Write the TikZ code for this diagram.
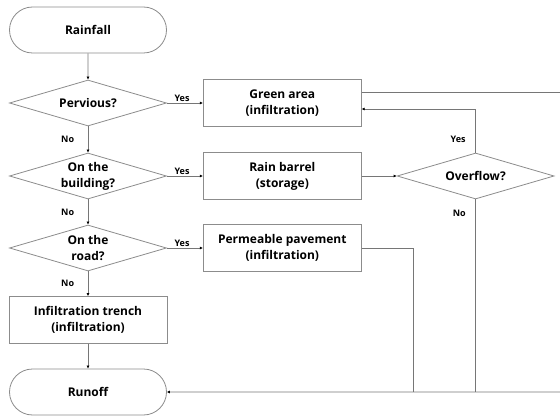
\documentclass[tikz,border=0pt]{standalone}
\usepackage{fontspec}
\setsansfont{Open Sans}
\usetikzlibrary{calc,positioning,arrows.meta,shapes.geometric,shapes.misc}
\definecolor{Edge}{HTML}{8C8C8C}
\definecolor{Wire}{HTML}{767676}
\tikzset{
  base/.style={draw=Edge,line width=.8pt,fill=white,align=center,inner sep=0pt,
    font=\sffamily\bfseries\fontsize{12}{16}\selectfont},
  terminal/.style={base,rounded rectangle,minimum width=157pt,minimum height=46pt},
  decision/.style={base,diamond,aspect=3.4,inner sep=-5pt,minimum width=157pt,minimum height=46pt},
  process/.style={base,rectangle,minimum width=158pt,minimum height=47pt},
  flow/.style={Wire,line width=.8pt,-{Latex[length=3pt,width=3pt,color=black]}},
  link/.style={Wire,line width=.8pt},
  tag/.style={text=black,font=\sffamily\bfseries\fontsize{9}{10}\selectfont,inner sep=1.5pt},
}
\begin{document}
\begin{tikzpicture}[x=1pt,y=-1pt,node distance=26.5pt and 36pt]
\useasboundingbox (0,0) rectangle (560,417);
% left column
\node[terminal] (rain) at (88,30) {Rainfall};
\node[decision] (perv) at (88,103) {Pervious?};
\node[decision] (build) at (88,176) {On the\\building?};
\node[decision] (road) at (88,248) {On the\\road?};
\node[process] (trench) at (88,320) {Infiltration trench\\(infiltration)};
\node[terminal] (runoff) at (88,392) {Runoff};
% measures
\node[process,right=36pt of perv] (green) {Green area\\(infiltration)};
\node[process,right=36pt of build] (barrel) {Rain barrel\\(storage)};
\node[process,right=36pt of road] (pave) {Permeable pavement\\(infiltration)};
\node[decision,right=35pt of barrel] (over) {Overflow?};
% helper points
\coordinate (edge) at (560,392);
\coordinate (greenin) at ($(green.east)+(0,6)$);
\coordinate (greenout) at ($(green.east)+(0,-11)$);
\coordinate (pavedrop) at ($(pave.east)+(52,0)$);
% connectors
\draw[flow] (rain) -- (perv);
\draw[flow] (perv) -- node[tag,above,pos=.42]{Yes} (green);
\draw[flow] (perv) -- node[tag,left=12pt]{No} (build);
\draw[flow] (build) -- node[tag,above,pos=.42]{Yes} (barrel);
\draw[flow] (build) -- node[tag,left=12pt]{No} (road);
\draw[flow] (road) -- node[tag,above,pos=.42]{Yes} (pave);
\draw[flow] (road) -- node[tag,left=12pt]{No} (trench);
\draw[flow] (trench) -- (runoff);
\draw[flow] (barrel) -- (over);
\draw[flow] (over.north) |- node[tag,left=8pt,pos=.15]{Yes} (greenin);
\draw[link] (over.south) -- node[tag,left=8pt,pos=.07]{No} (over.south |- runoff);
\draw[link] (greenout) -- (greenout -| edge);
\draw[link] (pave.east) -- (pavedrop) -- (pavedrop |- runoff);
\draw[flow] (edge) -- (runoff);
\end{tikzpicture}
\end{document}
